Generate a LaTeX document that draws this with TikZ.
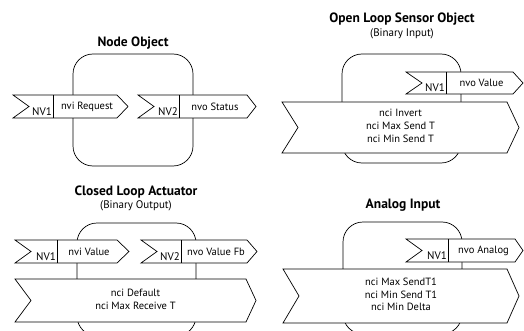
\documentclass[tikz,border=0pt]{standalone}
\usepackage{fontspec}
\setmainfont{PT Sans}
\usepackage{tikz}
\usetikzlibrary{positioning}

% port arrow: name, left, divider, right, tip, top, bottom, NV name, label
\newcommand{\nvport}[9]{%
  \draw[port] (#2,#6) -- (#4,#6) -- (#5,{(#6+#7)/2}) -- (#4,#7) -- (#2,#7)
    -- ({#2+16},{(#6+#7)/2}) -- cycle;
  \draw[port] (#3,#6) -- (#3,#7);
  \node[nvname] (#1-nv) at ({#3-1},{#7-2.5}) {#8};
  \node[nvlabel] (#1) at ({(#3+#4)/2+2},{(#6+#7)/2}) {#9};
}
% config bar: name, left, right, tip, top, bottom, text
\newcommand{\ncibar}[7]{%
  \draw[port] (#2,#5) -- (#3,#5) -- (#4,{(#5+#6)/2}) -- (#3,#6) -- (#2,#6)
    -- ({#2+16},{(#5+#6)/2}) -- cycle;
  \node[ncilist] (#1) at ({(#2+#4)/2},{(#5+#6)/2-1.5}) {#7};
}

\begin{document}
\begin{tikzpicture}[x=1pt,y=-1pt,
  unit/.style={draw,line width=0.7pt,rounded corners=20pt},
  port/.style={draw,fill=white,line width=0.7pt},
  title/.style={font=\fontsize{13.5}{15}\selectfont\bfseries,anchor=base},
  subtitle/.style={font=\fontsize{11}{13}\selectfont,anchor=base},
  nvname/.style={font=\fontsize{11}{13}\selectfont,inner sep=0pt,anchor=base east},
  nvlabel/.style={font=\fontsize{10.5}{12}\selectfont,inner sep=0pt},
  ncilist/.style={font=\fontsize{10.5}{12.8}\selectfont,align=center,inner sep=0pt}]
  \useasboundingbox (0,0) rectangle (524,331);
  \clip (0,0) rectangle (524,331);

  % node object
  \node[title] (no-title) at (133,47) {Node Object};
  \draw[unit] (73,54) rectangle (193,166);
  \nvport{req}{13}{53}{117}{128}{95}{118}{NV1}{nvi Request}
  \nvport{sts}{138}{179}{247}{256}{95}{118}{NV2}{nvo Status}

  % open loop sensor
  \node[title] (ol-title) at (402,23) {Open Loop Sensor Object};
  \node[subtitle] (ol-sub) at (402,37) {(Binary Input)};
  \draw[unit] (342,54) rectangle (461,163);
  \nvport{val}{406}{446}{513}{523}{72}{94}{NV1}{nvo Value}
  \ncibar{olcfg}{282}{507}{519}{102}{153}{nci Invert\\nci Max Send T\\nci Min Send T}

  % closed loop actuator
  \node[title] (cl-title) at (136,195) {Closed Loop Actuator};
  \node[subtitle] (cl-sub) at (136,208) {(Binary Output)};
  \draw[unit] (77,223) rectangle (196,336);
  \nvport{cval}{15}{57}{117}{129}{240}{263}{NV1}{nvi Value}
  \nvport{fb}{141}{181}{247}{257}{240}{263}{NV2}{nvo Value Fb}
  \ncibar{clcfg}{15}{246}{256}{279}{322}{nci Default\\nci Max Receive T}

  % analog input
  \node[title] (ai-title) at (403,208) {Analog Input};
  \draw[unit] (343,222) rectangle (462,334);
  \nvport{ana}{406}{448}{515}{523}{239}{262}{NV1}{nvo Analog}
  \ncibar{aicfg}{283}{507}{519}{269}{323}{nci Max SendT1\\nci Min Send T1\\nci Min Delta}
\end{tikzpicture}
\end{document}
